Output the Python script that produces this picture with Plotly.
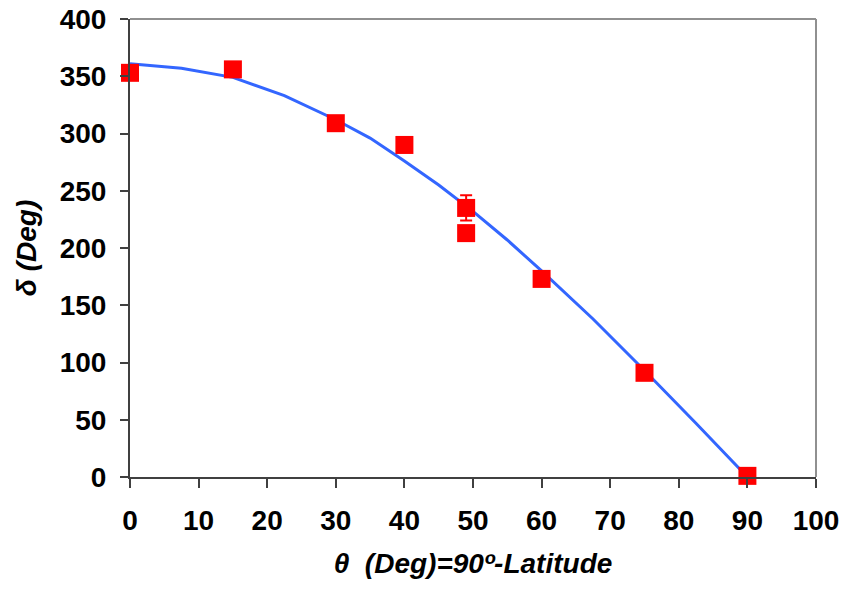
import plotly.graph_objects as go

theta_obs = [0, 15, 30, 40, 49, 49, 60, 75, 90]
delta_obs = [353, 356, 309, 290, 235, 213, 173, 91, 1]
delta_err = [3, 2, 2, 2, 11, 2, 2, 2, 2]

theta_fit = [0, 7.5, 15, 22.5, 30, 35, 40, 45, 50, 55, 60, 67.5, 75, 82.5, 90]
delta_fit = [361, 357, 349, 333, 312, 296, 276, 255, 232, 207, 180, 138, 93, 47, 0]

x_ticks = list(range(0, 101, 10))
y_ticks = list(range(0, 401, 50))

fig = go.Figure()
fig.add_trace(go.Scatter(
    x=theta_fit, y=delta_fit, mode="lines",
    line=dict(color="#3366ff", width=3), showlegend=False, hoverinfo="skip"))
fig.add_trace(go.Scatter(
    x=theta_obs, y=delta_obs, mode="markers", cliponaxis=False,
    marker=dict(symbol="square", size=18, color="#ff0000"),
    error_y=dict(type="data", array=delta_err, color="#ff0000", thickness=2, width=6),
    showlegend=False))

font_fam = "Liberation Sans, Arial, sans-serif"
fig.update_layout(
    width=841, height=581,
    margin=dict(l=122, r=33, t=11, b=112),
    plot_bgcolor="white", paper_bgcolor="white",
    font=dict(family=font_fam, size=28, color="black"),
    shapes=[
        dict(type="line", xref="paper", yref="paper", x0=0, x1=1, y0=1, y1=1,
             line=dict(color="#909090", width=2)),
        dict(type="line", xref="paper", yref="paper", x0=1, x1=1, y0=0, y1=1,
             line=dict(color="#909090", width=2)),
    ],
)
fig.update_xaxes(
    range=[0, 100], tickvals=x_ticks, ticktext=[f"<b>{v}</b>" for v in x_ticks],
    showgrid=False, zeroline=False, showline=True, linecolor="#404040", linewidth=2,
    ticks="outside", ticklen=9, tickcolor="#404040", tickwidth=2,
    tickfont=dict(size=28), automargin=False, ticklabelstandoff=8,
    ticklabeloverflow="allow",
    title=dict(text="<b><i>θ&nbsp;&nbsp;(Deg)=90º-Latitude</i></b>", font=dict(size=28), standoff=19),
)
fig.update_yaxes(
    range=[0, 400], tickvals=y_ticks, ticktext=[f"<b>{v}</b>" for v in y_ticks],
    showgrid=False, zeroline=False, showline=True, linecolor="#404040", linewidth=2,
    ticks="outside", ticklen=8, tickcolor="#404040", tickwidth=2,
    tickfont=dict(size=28), automargin=False, ticklabelstandoff=8,
    ticklabeloverflow="allow",
    title=dict(text="<b><i>δ (Deg)</i></b>", font=dict(size=28), standoff=15),
)
fig.write_html("out.html")
